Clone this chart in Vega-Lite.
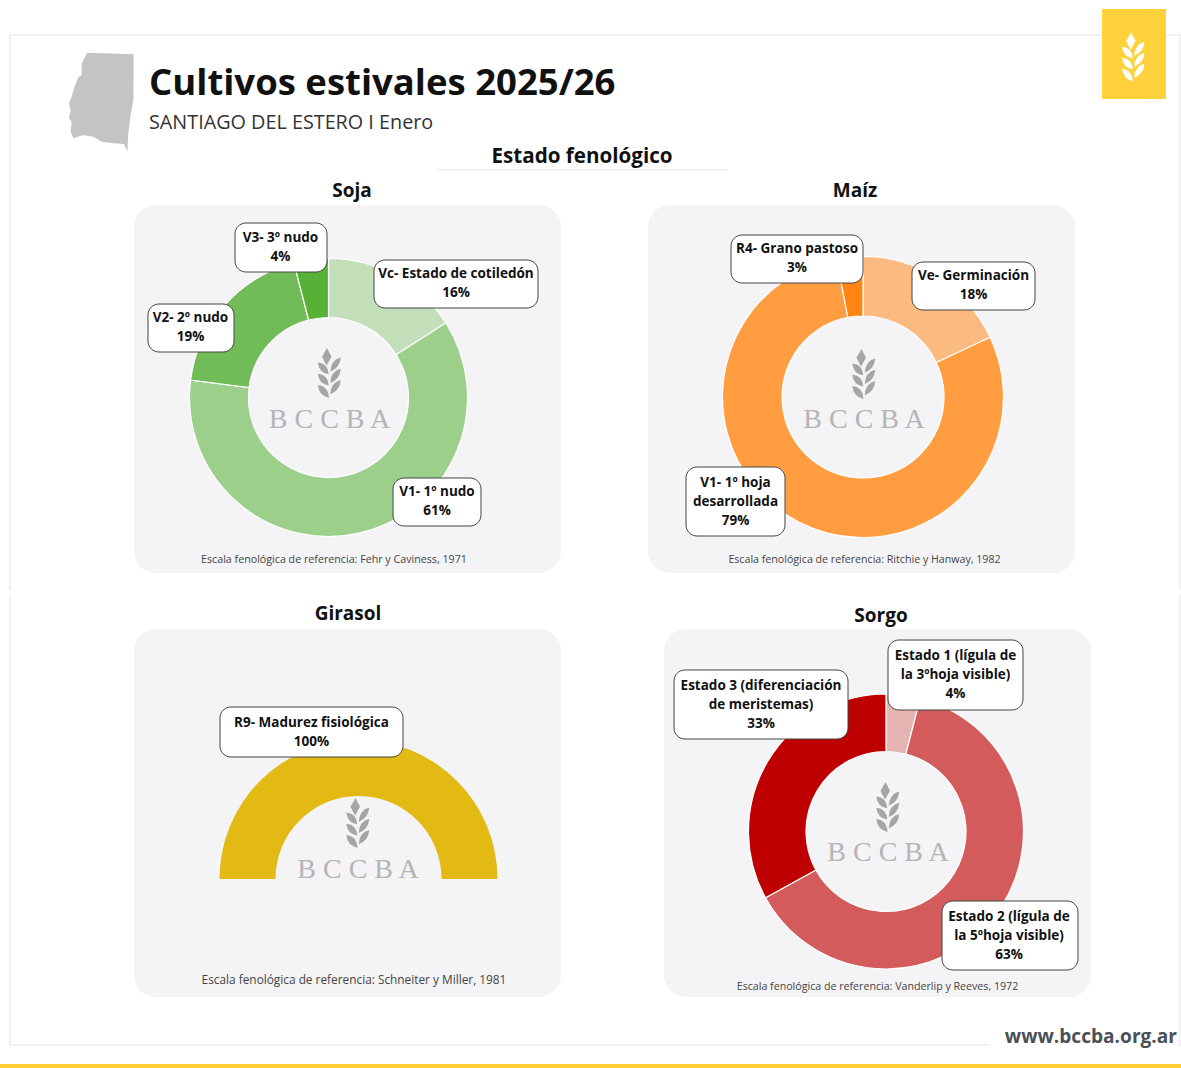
{"$schema":"https://vega.github.io/schema/vega-lite/v6.json","width":1181,"height":1068,"autosize":{"type":"fit","contains":"padding"},"padding":0,"background":"#ffffff","config":{"view":{"stroke":null},"text":{"font":"Open Sans"}},
"datasets":{"cultivos":[
{"cultivo":"Soja","estado":"Vc","etiqueta":"Vc- Estado de cotiledón\n16%","pct":16,"orden":1},
{"cultivo":"Soja","estado":"V1","etiqueta":"V1- 1º nudo\n61%","pct":61,"orden":2},
{"cultivo":"Soja","estado":"V2","etiqueta":"V2- 2º nudo\n19%","pct":19,"orden":3},
{"cultivo":"Soja","estado":"V3","etiqueta":"V3- 3º nudo\n4%","pct":4,"orden":4},
{"cultivo":"Maíz","estado":"Ve","etiqueta":"Ve- Germinación\n18%","pct":18,"orden":1},
{"cultivo":"Maíz","estado":"V1m","etiqueta":"V1- 1º hoja\ndesarrollada\n79%","pct":79,"orden":2},
{"cultivo":"Maíz","estado":"R4","etiqueta":"R4- Grano pastoso\n3%","pct":3,"orden":3},
{"cultivo":"Girasol","estado":"R9","etiqueta":"R9- Madurez fisiológica\n100%","pct":100,"orden":1},
{"cultivo":"Sorgo","estado":"E1","etiqueta":"Estado 1 (lígula de\nla 3ºhoja visible)\n4%","pct":4,"orden":1},
{"cultivo":"Sorgo","estado":"E2","etiqueta":"Estado 2 (lígula de\nla 5ºhoja visible)\n63%","pct":63,"orden":2},
{"cultivo":"Sorgo","estado":"E3","etiqueta":"Estado 3 (diferenciación\nde meristemas)\n33%","pct":33,"orden":3}
]},
"resolve":{"scale":{"theta":"independent"}},
"layer":[
{"data":{"values":[{"p":"marco"}]},"mark":{"type":"rect","fill":null,"stroke":"#F0F0F5","strokeWidth":2},"encoding":{"x":{"datum":10,"type":"quantitative","scale":{"domain":[0,1181],"nice":false,"zero":false},"axis":null},"x2":{"datum":1180},"y":{"datum":35,"type":"quantitative","scale":{"domain":[1068,0],"nice":false,"zero":false},"axis":null},"y2":{"datum":1045}}},
{"data":{"values":[{"p":"corte"}]},"mark":{"type":"rect","fill":"#ffffff"},"encoding":{"x":{"datum":0,"type":"quantitative"},"x2":{"datum":1181},"y":{"datum":590,"type":"quantitative"},"y2":{"datum":595}}},
{"data":{"values":[{"p":"corte"}]},"mark":{"type":"rect","fill":"#ffffff"},"encoding":{"x":{"datum":990,"type":"quantitative"},"x2":{"datum":1178},"y":{"datum":1030,"type":"quantitative"},"y2":{"datum":1050}}},
{"data":{"values":[{"p":"barra"}]},"mark":{"type":"rect","fill":"#FFCE33"},"encoding":{"x":{"datum":0,"type":"quantitative"},"x2":{"datum":1181},"y":{"datum":1064,"type":"quantitative"},"y2":{"datum":1068}}},
{"data":{"values":[{"p":"logo"}]},"mark":{"type":"rect","fill":"#FFD13B"},"encoding":{"x":{"datum":1102,"type":"quantitative"},"x2":{"datum":1166},"y":{"datum":9,"type":"quantitative"},"y2":{"datum":99}}},
{"data":{"values":[{"p":"espiga"}]},"mark":{"type":"point","filled":true,"opacity":1,"fill":"#ffffff","strokeWidth":0,"size":2401,"shape":"M-0.1,-1 L0.08,-0.65 L-0.12,-0.3 L-0.3,-0.65Z M-0.47,-0.42 Q-0.05,-0.38 -0.03,0.05 Q-0.42,0 -0.47,-0.42Z M-0.47,0.03 Q-0.05,0.07 -0.03,0.5 Q-0.42,0.45 -0.47,0.03Z M-0.47,0.48 Q-0.05,0.52 -0.02,1 Q-0.42,0.9 -0.47,0.48Z M0.45,-0.62 Q0.05,-0.52 0.03,-0.05 Q0.42,-0.2 0.45,-0.62Z M0.45,-0.17 Q0.05,-0.07 0.03,0.4 Q0.42,0.25 0.45,-0.17Z M0.45,0.28 Q0.05,0.38 0.03,0.85 Q0.42,0.7 0.45,0.28Z"},"encoding":{"x":{"datum":1133.5,"type":"quantitative"},"y":{"datum":57,"type":"quantitative"}}},
{"data":{"values":[{"p":"provincia"}]},"mark":{"type":"point","filled":true,"opacity":1,"fill":"#C4C4C4","strokeWidth":0,"size":9801,"shape":"M-0.286,-1.007 L0.65,-0.973 L0.643,-0.05 L0.589,0.253 L0.542,0.623 L0.522,0.993 L0.455,0.838 L0.239,0.825 L0.003,0.791 L-0.165,0.69 L-0.367,0.657 L-0.569,0.724 L-0.623,0.589 L-0.603,0.387 L-0.657,0.32 L-0.623,0.152 L-0.657,0.017 L-0.603,-0.118 L-0.556,-0.286 L-0.468,-0.508 L-0.401,-0.556 L-0.401,-0.791Z"},"encoding":{"x":{"datum":101.5,"type":"quantitative"},"y":{"datum":102.5,"type":"quantitative"}}},
{"data":{"values":[{"t":"Cultivos estivales 2025/26"}]},"mark":{"type":"text","align":"left","baseline":"alphabetic","fontWeight":"bold","fontSize":36.5,"fill":"#111111"},"encoding":{"text":{"field":"t"},"x":{"datum":149,"type":"quantitative"},"y":{"datum":95,"type":"quantitative"}}},
{"data":{"values":[{"t":"SANTIAGO DEL ESTERO I Enero"}]},"mark":{"type":"text","align":"left","baseline":"middle","fontSize":19.8,"fill":"#333333"},"encoding":{"text":{"field":"t"},"x":{"datum":149,"type":"quantitative"},"y":{"datum":123,"type":"quantitative"}}},
{"data":{"values":[{"t":"Estado fenológico"}]},"mark":{"type":"text","align":"center","baseline":"middle","fontWeight":"bold","fontSize":20.6,"fill":"#111111"},"encoding":{"text":{"field":"t"},"x":{"datum":582,"type":"quantitative"},"y":{"datum":157,"type":"quantitative"}}},
{"data":{"values":[{"p":"linea"}]},"mark":{"type":"rule","stroke":"#E8E8EE","strokeWidth":1},"encoding":{"x":{"datum":437,"type":"quantitative"},"x2":{"datum":728},"y":{"datum":170,"type":"quantitative"}}},
{"data":{"values":[{"t":"www.bccba.org.ar"}]},"mark":{"type":"text","align":"right","baseline":"middle","fontWeight":"bold","fontSize":19.1,"fill":"#4A5058"},"encoding":{"text":{"field":"t"},"x":{"datum":1177,"type":"quantitative"},"y":{"datum":1037,"type":"quantitative"}}},

{"data":{"values":[{"cultivo":"Soja"}]},"mark":{"type":"rect","fill":"#F4F4F6","cornerRadius":22},"encoding":{"x":{"datum":134,"type":"quantitative"},"x2":{"datum":561},"y":{"datum":205,"type":"quantitative"},"y2":{"datum":573}}},
{"data":{"values":[{"cultivo":"Maíz"}]},"mark":{"type":"rect","fill":"#F4F4F6","cornerRadius":22},"encoding":{"x":{"datum":648,"type":"quantitative"},"x2":{"datum":1075},"y":{"datum":205,"type":"quantitative"},"y2":{"datum":573}}},
{"data":{"values":[{"cultivo":"Girasol"}]},"mark":{"type":"rect","fill":"#F4F4F6","cornerRadius":22},"encoding":{"x":{"datum":134,"type":"quantitative"},"x2":{"datum":561},"y":{"datum":629,"type":"quantitative"},"y2":{"datum":997}}},
{"data":{"values":[{"cultivo":"Sorgo"}]},"mark":{"type":"rect","fill":"#F4F4F6","cornerRadius":22},"encoding":{"x":{"datum":664,"type":"quantitative"},"x2":{"datum":1091},"y":{"datum":629,"type":"quantitative"},"y2":{"datum":997}}},

{"data":{"values":[{"t":"Soja"}]},"mark":{"type":"text","align":"center","baseline":"middle","fontWeight":"bold","fontSize":19,"fill":"#111111"},"encoding":{"text":{"field":"t"},"x":{"datum":352,"type":"quantitative"},"y":{"datum":191,"type":"quantitative"}}},
{"data":{"values":[{"t":"Maíz"}]},"mark":{"type":"text","align":"center","baseline":"middle","fontWeight":"bold","fontSize":19,"fill":"#111111"},"encoding":{"text":{"field":"t"},"x":{"datum":855,"type":"quantitative"},"y":{"datum":191,"type":"quantitative"}}},
{"data":{"values":[{"t":"Girasol"}]},"mark":{"type":"text","align":"center","baseline":"middle","fontWeight":"bold","fontSize":19,"fill":"#111111"},"encoding":{"text":{"field":"t"},"x":{"datum":348,"type":"quantitative"},"y":{"datum":614,"type":"quantitative"}}},
{"data":{"values":[{"t":"Sorgo"}]},"mark":{"type":"text","align":"center","baseline":"middle","fontWeight":"bold","fontSize":19,"fill":"#111111"},"encoding":{"text":{"field":"t"},"x":{"datum":881,"type":"quantitative"},"y":{"datum":616,"type":"quantitative"}}},

{"data":{"values":[{"t":"Escala fenológica de referencia: Fehr y Caviness, 1971"}]},"mark":{"type":"text","align":"center","baseline":"middle","fontSize":10.7,"fill":"#444444"},"encoding":{"text":{"field":"t"},"x":{"datum":334,"type":"quantitative"},"y":{"datum":560,"type":"quantitative"}}},
{"data":{"values":[{"t":"Escala fenológica de referencia: Ritchie y Hanway, 1982"}]},"mark":{"type":"text","align":"center","baseline":"middle","fontSize":10.65,"fill":"#444444"},"encoding":{"text":{"field":"t"},"x":{"datum":864.5,"type":"quantitative"},"y":{"datum":560,"type":"quantitative"}}},
{"data":{"values":[{"t":"Escala fenológica de referencia: Schneiter y Miller, 1981"}]},"mark":{"type":"text","align":"center","baseline":"middle","fontSize":11.85,"fill":"#444444"},"encoding":{"text":{"field":"t"},"x":{"datum":354,"type":"quantitative"},"y":{"datum":980,"type":"quantitative"}}},
{"data":{"values":[{"t":"Escala fenológica de referencia: Vanderlip y Reeves, 1972"}]},"mark":{"type":"text","align":"center","baseline":"middle","fontSize":10.65,"fill":"#444444"},"encoding":{"text":{"field":"t"},"x":{"datum":877.5,"type":"quantitative"},"y":{"datum":987,"type":"quantitative"}}},

{"data":{"name":"cultivos"},"transform":[{"filter":"datum.cultivo=='Soja'"}],"mark":{"type":"arc","radius":139,"radius2":80,"stroke":"#ffffff","strokeWidth":1.2},"encoding":{"x":{"datum":328.5,"type":"quantitative"},"y":{"datum":397.5,"type":"quantitative"},"theta":{"field":"pct","type":"quantitative","stack":true,"scale":{"domain":[0,100],"range":[0,6.2832]}},"order":{"field":"orden"},"color":{"field":"estado","legend":null,"scale":{"domain":["Vc","V1","V2","V3","Ve","V1m","R4","R9","E1","E2","E3"],"range":["#C3DFB9","#9BCF8A","#72BB59","#57B137","#FBBA80","#FF9D40","#FF8412","#E3B914","#E6B3B3","#D35B5B","#BF0000"]}}}},
{"data":{"name":"cultivos"},"transform":[{"filter":"datum.cultivo=='Maíz'"}],"mark":{"type":"arc","radius":140.5,"radius2":81,"stroke":"#ffffff","strokeWidth":1.2},"encoding":{"x":{"datum":863,"type":"quantitative"},"y":{"datum":397,"type":"quantitative"},"theta":{"field":"pct","type":"quantitative","stack":true,"scale":{"domain":[0,100],"range":[0,6.2832]}},"order":{"field":"orden"},"color":{"field":"estado","legend":null}}},
{"data":{"name":"cultivos"},"transform":[{"filter":"datum.cultivo=='Girasol'"}],"mark":{"type":"arc","radius":139,"radius2":83},"encoding":{"x":{"datum":358.5,"type":"quantitative"},"y":{"datum":879,"type":"quantitative"},"theta":{"field":"pct","type":"quantitative","stack":true,"scale":{"domain":[0,100],"range":[-1.5708,1.5708]}},"order":{"field":"orden"},"color":{"field":"estado","legend":null}}},
{"data":{"name":"cultivos"},"transform":[{"filter":"datum.cultivo=='Sorgo'"}],"mark":{"type":"arc","radius":137.5,"radius2":80,"stroke":"#ffffff","strokeWidth":1.2},"encoding":{"x":{"datum":886,"type":"quantitative"},"y":{"datum":831.5,"type":"quantitative"},"theta":{"field":"pct","type":"quantitative","stack":true,"scale":{"domain":[0,100],"range":[0,6.2832]}},"order":{"field":"orden"},"color":{"field":"estado","legend":null}}},

{"data":{"values":[{"p":"espiga"}]},"mark":{"type":"point","filled":true,"opacity":1,"fill":"#A5A5A5","strokeWidth":0,"size":2500,"shape":"M-0.1,-1 L0.08,-0.65 L-0.12,-0.3 L-0.3,-0.65Z M-0.47,-0.42 Q-0.05,-0.38 -0.03,0.05 Q-0.42,0 -0.47,-0.42Z M-0.47,0.03 Q-0.05,0.07 -0.03,0.5 Q-0.42,0.45 -0.47,0.03Z M-0.47,0.48 Q-0.05,0.52 -0.02,1 Q-0.42,0.9 -0.47,0.48Z M0.45,-0.62 Q0.05,-0.52 0.03,-0.05 Q0.42,-0.2 0.45,-0.62Z M0.45,-0.17 Q0.05,-0.07 0.03,0.4 Q0.42,0.25 0.45,-0.17Z M0.45,0.28 Q0.05,0.38 0.03,0.85 Q0.42,0.7 0.45,0.28Z"},"encoding":{"x":{"datum":329.5,"type":"quantitative"},"y":{"datum":373,"type":"quantitative"}}},
{"data":{"values":[{"p":"espiga"}]},"mark":{"type":"point","filled":true,"opacity":1,"fill":"#A5A5A5","strokeWidth":0,"size":2500,"shape":"M-0.1,-1 L0.08,-0.65 L-0.12,-0.3 L-0.3,-0.65Z M-0.47,-0.42 Q-0.05,-0.38 -0.03,0.05 Q-0.42,0 -0.47,-0.42Z M-0.47,0.03 Q-0.05,0.07 -0.03,0.5 Q-0.42,0.45 -0.47,0.03Z M-0.47,0.48 Q-0.05,0.52 -0.02,1 Q-0.42,0.9 -0.47,0.48Z M0.45,-0.62 Q0.05,-0.52 0.03,-0.05 Q0.42,-0.2 0.45,-0.62Z M0.45,-0.17 Q0.05,-0.07 0.03,0.4 Q0.42,0.25 0.45,-0.17Z M0.45,0.28 Q0.05,0.38 0.03,0.85 Q0.42,0.7 0.45,0.28Z"},"encoding":{"x":{"datum":864,"type":"quantitative"},"y":{"datum":374,"type":"quantitative"}}},
{"data":{"values":[{"p":"espiga"}]},"mark":{"type":"point","filled":true,"opacity":1,"fill":"#A5A5A5","strokeWidth":0,"size":2500,"shape":"M-0.1,-1 L0.08,-0.65 L-0.12,-0.3 L-0.3,-0.65Z M-0.47,-0.42 Q-0.05,-0.38 -0.03,0.05 Q-0.42,0 -0.47,-0.42Z M-0.47,0.03 Q-0.05,0.07 -0.03,0.5 Q-0.42,0.45 -0.47,0.03Z M-0.47,0.48 Q-0.05,0.52 -0.02,1 Q-0.42,0.9 -0.47,0.48Z M0.45,-0.62 Q0.05,-0.52 0.03,-0.05 Q0.42,-0.2 0.45,-0.62Z M0.45,-0.17 Q0.05,-0.07 0.03,0.4 Q0.42,0.25 0.45,-0.17Z M0.45,0.28 Q0.05,0.38 0.03,0.85 Q0.42,0.7 0.45,0.28Z"},"encoding":{"x":{"datum":358,"type":"quantitative"},"y":{"datum":823,"type":"quantitative"}}},
{"data":{"values":[{"p":"espiga"}]},"mark":{"type":"point","filled":true,"opacity":1,"fill":"#A5A5A5","strokeWidth":0,"size":2500,"shape":"M-0.1,-1 L0.08,-0.65 L-0.12,-0.3 L-0.3,-0.65Z M-0.47,-0.42 Q-0.05,-0.38 -0.03,0.05 Q-0.42,0 -0.47,-0.42Z M-0.47,0.03 Q-0.05,0.07 -0.03,0.5 Q-0.42,0.45 -0.47,0.03Z M-0.47,0.48 Q-0.05,0.52 -0.02,1 Q-0.42,0.9 -0.47,0.48Z M0.45,-0.62 Q0.05,-0.52 0.03,-0.05 Q0.42,-0.2 0.45,-0.62Z M0.45,-0.17 Q0.05,-0.07 0.03,0.4 Q0.42,0.25 0.45,-0.17Z M0.45,0.28 Q0.05,0.38 0.03,0.85 Q0.42,0.7 0.45,0.28Z"},"encoding":{"x":{"datum":888,"type":"quantitative"},"y":{"datum":807,"type":"quantitative"}}},

{"data":{"values":[{"t":"B C C B A"}]},"mark":{"type":"text","align":"center","baseline":"middle","font":"Liberation Serif","fontSize":28,"fill":"#B5B5B5"},"encoding":{"text":{"field":"t"},"x":{"datum":329.5,"type":"quantitative"},"y":{"datum":420,"type":"quantitative"}}},
{"data":{"values":[{"t":"B C C B A"}]},"mark":{"type":"text","align":"center","baseline":"middle","font":"Liberation Serif","fontSize":28,"fill":"#B5B5B5"},"encoding":{"text":{"field":"t"},"x":{"datum":864,"type":"quantitative"},"y":{"datum":420,"type":"quantitative"}}},
{"data":{"values":[{"t":"B C C B A"}]},"mark":{"type":"text","align":"center","baseline":"middle","font":"Liberation Serif","fontSize":28,"fill":"#B5B5B5"},"encoding":{"text":{"field":"t"},"x":{"datum":358,"type":"quantitative"},"y":{"datum":870,"type":"quantitative"}}},
{"data":{"values":[{"t":"B C C B A"}]},"mark":{"type":"text","align":"center","baseline":"middle","font":"Liberation Serif","fontSize":28,"fill":"#B5B5B5"},"encoding":{"text":{"field":"t"},"x":{"datum":888,"type":"quantitative"},"y":{"datum":853,"type":"quantitative"}}},

{"data":{"name":"cultivos"},"transform":[{"filter":"datum.estado=='Vc'"}],"mark":{"type":"rect","fill":"#ffffff","stroke":"#444444","strokeWidth":1,"cornerRadius":11},"encoding":{"x":{"datum":374,"type":"quantitative"},"x2":{"datum":538},"y":{"datum":260,"type":"quantitative"},"y2":{"datum":308}}},
{"data":{"name":"cultivos"},"transform":[{"filter":"datum.estado=='Vc'"}],"mark":{"type":"text","align":"center","baseline":"middle","fontWeight":"bold","fontSize":13.5,"lineHeight":19,"lineBreak":"\n","fill":"#111111"},"encoding":{"text":{"field":"etiqueta"},"x":{"datum":456,"type":"quantitative"},"y":{"datum":274,"type":"quantitative"}}},
{"data":{"name":"cultivos"},"transform":[{"filter":"datum.estado=='V1'"}],"mark":{"type":"rect","fill":"#ffffff","stroke":"#444444","strokeWidth":1,"cornerRadius":11},"encoding":{"x":{"datum":393,"type":"quantitative"},"x2":{"datum":481},"y":{"datum":478,"type":"quantitative"},"y2":{"datum":526}}},
{"data":{"name":"cultivos"},"transform":[{"filter":"datum.estado=='V1'"}],"mark":{"type":"text","align":"center","baseline":"middle","fontWeight":"bold","fontSize":13.5,"lineHeight":19,"lineBreak":"\n","fill":"#111111"},"encoding":{"text":{"field":"etiqueta"},"x":{"datum":437,"type":"quantitative"},"y":{"datum":492,"type":"quantitative"}}},
{"data":{"name":"cultivos"},"transform":[{"filter":"datum.estado=='V2'"}],"mark":{"type":"rect","fill":"#ffffff","stroke":"#444444","strokeWidth":1,"cornerRadius":11},"encoding":{"x":{"datum":148,"type":"quantitative"},"x2":{"datum":234},"y":{"datum":304,"type":"quantitative"},"y2":{"datum":352}}},
{"data":{"name":"cultivos"},"transform":[{"filter":"datum.estado=='V2'"}],"mark":{"type":"text","align":"center","baseline":"middle","fontWeight":"bold","fontSize":13.5,"lineHeight":19,"lineBreak":"\n","fill":"#111111"},"encoding":{"text":{"field":"etiqueta"},"x":{"datum":190.5,"type":"quantitative"},"y":{"datum":318,"type":"quantitative"}}},
{"data":{"name":"cultivos"},"transform":[{"filter":"datum.estado=='V3'"}],"mark":{"type":"rect","fill":"#ffffff","stroke":"#444444","strokeWidth":1,"cornerRadius":11},"encoding":{"x":{"datum":235,"type":"quantitative"},"x2":{"datum":327},"y":{"datum":223,"type":"quantitative"},"y2":{"datum":272}}},
{"data":{"name":"cultivos"},"transform":[{"filter":"datum.estado=='V3'"}],"mark":{"type":"text","align":"center","baseline":"middle","fontWeight":"bold","fontSize":13.5,"lineHeight":19,"lineBreak":"\n","fill":"#111111"},"encoding":{"text":{"field":"etiqueta"},"x":{"datum":280.5,"type":"quantitative"},"y":{"datum":238,"type":"quantitative"}}},
{"data":{"name":"cultivos"},"transform":[{"filter":"datum.estado=='Ve'"}],"mark":{"type":"rect","fill":"#ffffff","stroke":"#444444","strokeWidth":1,"cornerRadius":11},"encoding":{"x":{"datum":912,"type":"quantitative"},"x2":{"datum":1035},"y":{"datum":262,"type":"quantitative"},"y2":{"datum":310}}},
{"data":{"name":"cultivos"},"transform":[{"filter":"datum.estado=='Ve'"}],"mark":{"type":"text","align":"center","baseline":"middle","fontWeight":"bold","fontSize":13.5,"lineHeight":19,"lineBreak":"\n","fill":"#111111"},"encoding":{"text":{"field":"etiqueta"},"x":{"datum":973.5,"type":"quantitative"},"y":{"datum":276,"type":"quantitative"}}},
{"data":{"name":"cultivos"},"transform":[{"filter":"datum.estado=='V1m'"}],"mark":{"type":"rect","fill":"#ffffff","stroke":"#444444","strokeWidth":1,"cornerRadius":11},"encoding":{"x":{"datum":686,"type":"quantitative"},"x2":{"datum":785},"y":{"datum":467,"type":"quantitative"},"y2":{"datum":536}}},
{"data":{"name":"cultivos"},"transform":[{"filter":"datum.estado=='V1m'"}],"mark":{"type":"text","align":"center","baseline":"middle","fontWeight":"bold","fontSize":13.5,"lineHeight":19,"lineBreak":"\n","fill":"#111111"},"encoding":{"text":{"field":"etiqueta"},"x":{"datum":735.5,"type":"quantitative"},"y":{"datum":483,"type":"quantitative"}}},
{"data":{"name":"cultivos"},"transform":[{"filter":"datum.estado=='R4'"}],"mark":{"type":"rect","fill":"#ffffff","stroke":"#444444","strokeWidth":1,"cornerRadius":11},"encoding":{"x":{"datum":731,"type":"quantitative"},"x2":{"datum":863},"y":{"datum":235,"type":"quantitative"},"y2":{"datum":283}}},
{"data":{"name":"cultivos"},"transform":[{"filter":"datum.estado=='R4'"}],"mark":{"type":"text","align":"center","baseline":"middle","fontWeight":"bold","fontSize":13.5,"lineHeight":19,"lineBreak":"\n","fill":"#111111"},"encoding":{"text":{"field":"etiqueta"},"x":{"datum":797,"type":"quantitative"},"y":{"datum":249,"type":"quantitative"}}},
{"data":{"name":"cultivos"},"transform":[{"filter":"datum.estado=='R9'"}],"mark":{"type":"rect","fill":"#ffffff","stroke":"#444444","strokeWidth":1,"cornerRadius":11},"encoding":{"x":{"datum":220,"type":"quantitative"},"x2":{"datum":403},"y":{"datum":707,"type":"quantitative"},"y2":{"datum":757}}},
{"data":{"name":"cultivos"},"transform":[{"filter":"datum.estado=='R9'"}],"mark":{"type":"text","align":"center","baseline":"middle","fontWeight":"bold","fontSize":13.5,"lineHeight":19,"lineBreak":"\n","fill":"#111111"},"encoding":{"text":{"field":"etiqueta"},"x":{"datum":311.5,"type":"quantitative"},"y":{"datum":723,"type":"quantitative"}}},
{"data":{"name":"cultivos"},"transform":[{"filter":"datum.estado=='E1'"}],"mark":{"type":"rect","fill":"#ffffff","stroke":"#444444","strokeWidth":1,"cornerRadius":11},"encoding":{"x":{"datum":888,"type":"quantitative"},"x2":{"datum":1023},"y":{"datum":640,"type":"quantitative"},"y2":{"datum":710}}},
{"data":{"name":"cultivos"},"transform":[{"filter":"datum.estado=='E1'"}],"mark":{"type":"text","align":"center","baseline":"middle","fontWeight":"bold","fontSize":13.5,"lineHeight":19,"lineBreak":"\n","fill":"#111111"},"encoding":{"text":{"field":"etiqueta"},"x":{"datum":955.5,"type":"quantitative"},"y":{"datum":656,"type":"quantitative"}}},
{"data":{"name":"cultivos"},"transform":[{"filter":"datum.estado=='E3'"}],"mark":{"type":"rect","fill":"#ffffff","stroke":"#444444","strokeWidth":1,"cornerRadius":11},"encoding":{"x":{"datum":674,"type":"quantitative"},"x2":{"datum":848},"y":{"datum":670,"type":"quantitative"},"y2":{"datum":739}}},
{"data":{"name":"cultivos"},"transform":[{"filter":"datum.estado=='E3'"}],"mark":{"type":"text","align":"center","baseline":"middle","fontWeight":"bold","fontSize":13.5,"lineHeight":19,"lineBreak":"\n","fill":"#111111"},"encoding":{"text":{"field":"etiqueta"},"x":{"datum":761,"type":"quantitative"},"y":{"datum":686,"type":"quantitative"}}},
{"data":{"name":"cultivos"},"transform":[{"filter":"datum.estado=='E2'"}],"mark":{"type":"rect","fill":"#ffffff","stroke":"#444444","strokeWidth":1,"cornerRadius":11},"encoding":{"x":{"datum":942,"type":"quantitative"},"x2":{"datum":1078},"y":{"datum":901,"type":"quantitative"},"y2":{"datum":970}}},
{"data":{"name":"cultivos"},"transform":[{"filter":"datum.estado=='E2'"}],"mark":{"type":"text","align":"center","baseline":"middle","fontWeight":"bold","fontSize":13.5,"lineHeight":19,"lineBreak":"\n","fill":"#111111"},"encoding":{"text":{"field":"etiqueta"},"x":{"datum":1009,"type":"quantitative"},"y":{"datum":917,"type":"quantitative"}}}
]}
